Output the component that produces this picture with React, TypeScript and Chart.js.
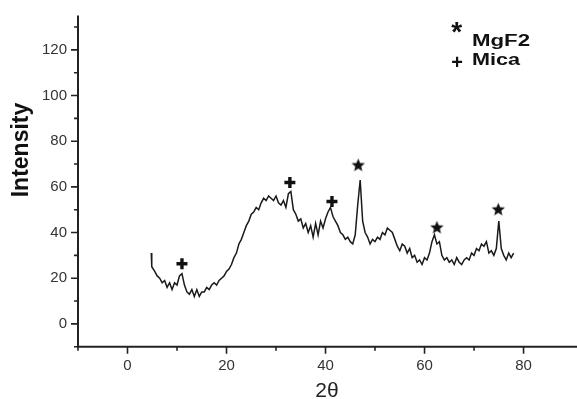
import React, { useEffect, useRef } from "react";
import { Chart, registerables } from "chart.js";

Chart.register(...registerables);

// ---- data ----
const twoTheta = [
  4.8, 4.9, 5.5, 6.0, 6.5, 7.0, 7.5, 8.0, 8.5, 9.0, 9.5, 10.0, 10.5, 11.0, 11.5,
  12.0, 12.5, 13.0, 13.5, 14.0, 14.5, 15.0, 15.5, 16.0, 16.5, 17.0, 17.5, 18.0,
  18.5, 19.0, 19.5, 20.0, 20.5, 21.0, 21.5, 22.0, 22.5, 23.0, 23.5, 24.0, 24.5,
  25.0, 25.5, 26.0, 26.5, 27.0, 27.5, 28.0, 28.5, 29.0, 29.5, 30.0, 30.5, 31.0,
  31.5, 32.0, 32.5, 33.0, 33.5, 34.0, 34.5, 35.0, 35.5, 36.0, 36.5, 37.0, 37.5,
  38.0, 38.5, 39.0, 39.5, 40.0, 40.5, 41.0, 41.5, 42.0, 42.5, 43.0, 43.5, 44.0,
  44.5, 45.0, 45.5, 46.0, 46.5, 47.0, 47.5, 48.0, 48.5, 49.0, 49.5, 50.0, 50.5,
  51.0, 51.5, 52.0, 52.5, 53.0, 53.5, 54.0, 54.5, 55.0, 55.5, 56.0, 56.5, 57.0,
  57.5, 58.0, 58.5, 59.0, 59.5, 60.0, 60.5, 61.0, 61.5, 62.0, 62.5, 63.0, 63.5,
  64.0, 64.5, 65.0, 65.5, 66.0, 66.5, 67.0, 67.5, 68.0, 68.5, 69.0, 69.5, 70.0,
  70.5, 71.0, 71.5, 72.0, 72.5, 73.0, 73.5, 74.0, 74.5, 75.0, 75.5, 76.0, 76.5,
  77.0, 77.5, 78.0,
];
const intensity = [
  31, 25, 23, 21, 20, 18, 19, 16, 18, 15, 18, 17, 21, 22, 17,
  14, 13, 15, 12, 15, 12, 14, 14, 16, 15, 17, 18, 17,
  19, 20, 21, 23, 24, 26, 29, 31, 35, 37, 40, 43, 45,
  48, 49, 51, 50, 53, 55, 54, 56, 55, 54, 56, 53, 52,
  54, 51, 57, 58, 50, 48, 45, 46, 42, 44, 40, 43, 38,
  44, 39, 45, 42, 46, 49, 51, 47, 45, 43, 40, 39, 37,
  38, 36, 35, 39, 52, 63, 45, 40, 38, 35, 37, 36, 38,
  37, 40, 39, 42, 41, 40, 37, 34, 32, 35, 34, 31, 33,
  29, 30, 27, 28, 26, 29, 28, 31, 36, 39, 35, 36, 30,
  28, 29, 27, 28, 26, 29, 27, 26, 28, 29, 28, 31, 30,
  33, 32, 35, 34, 36, 31, 32, 30, 33, 45, 33, 30, 28,
  31, 29, 31,
];
const micaX = [11.0, 32.8, 41.3];
const micaY = [26.3, 61.9, 53.6];
const mgf2X = [46.6, 62.5, 74.9];
const mgf2Y = [69.6, 42.3, 50.2];

const xMajor = [0, 20, 40, 60, 80];
const xMinor = [-10, 10, 30, 50, 70];
const yMajor = [0, 20, 40, 60, 80, 100, 120];
const yMinor = [-10, 10, 30, 50, 70, 90, 110, 130];

const xTitle = "2θ";
const yTitle = "Intensity";
const legendSymbols = ["*", "+"];
const legendLabels = ["MgF2", "Mica"];

function makeStar(): HTMLCanvasElement {
  const c = document.createElement("canvas");
  c.width = 15;
  c.height = 15;
  const g = c.getContext("2d")!;
  g.fillStyle = "#111";
  g.beginPath();
  for (let i = 0; i < 10; i++) {
    const r = i % 2 === 0 ? 7 : 3.1;
    const a = -Math.PI / 2 + (i * Math.PI) / 5;
    const px = 7.5 + r * Math.cos(a);
    const py = 8 + r * Math.sin(a);
    if (i === 0) g.moveTo(px, py);
    else g.lineTo(px, py);
  }
  g.closePath();
  g.fill();
  return c;
}

const decorPlugin = {
  id: "decor",
  afterDraw(chart: any) {
    const ctx = chart.ctx as CanvasRenderingContext2D;
    const xs = chart.scales.x;
    const ys = chart.scales.y;
    const { left, bottom, top } = chart.chartArea;
    ctx.save();
    ctx.strokeStyle = "#222";
    ctx.lineWidth = 2;
    // axes
    ctx.beginPath();
    ctx.moveTo(left, top);
    ctx.lineTo(left, bottom);
    ctx.moveTo(left - 1, bottom);
    ctx.lineTo(chart.width, bottom);
    ctx.stroke();
    // ticks
    ctx.lineWidth = 1.6;
    ctx.beginPath();
    xMajor.forEach((v) => {
      const p = xs.getPixelForValue(v);
      ctx.moveTo(p, bottom);
      ctx.lineTo(p, bottom + 7);
    });
    xMinor.forEach((v) => {
      const p = xs.getPixelForValue(v);
      ctx.moveTo(p, bottom);
      ctx.lineTo(p, bottom + 4);
    });
    yMajor.forEach((v) => {
      const p = ys.getPixelForValue(v);
      ctx.moveTo(left, p);
      ctx.lineTo(left - 7, p);
    });
    yMinor.forEach((v) => {
      const p = ys.getPixelForValue(v);
      ctx.moveTo(left, p);
      ctx.lineTo(left - 4, p);
    });
    ctx.stroke();

    // axis titles
    ctx.fillStyle = "#111";
    ctx.font = 'bold 23px "Liberation Sans", Arial, sans-serif';
    ctx.textAlign = "center";
    ctx.textBaseline = "alphabetic";
    ctx.save();
    ctx.translate(28.2, 150);
    ctx.rotate(-Math.PI / 2);
    ctx.fillText(yTitle, 0, 0);
    ctx.restore();

    ctx.font = '21px "Liberation Sans", Arial, sans-serif';
    ctx.fillStyle = "#222";
    ctx.fillText(xTitle, 327, 396.5);

    // legend
    const symCenters = [
      [456.7, 27],
      [457, 61],
    ];
    const labelBase = [46.3, 65];
    const labelWidth = [58, 48];
    ctx.fillStyle = "#111";
    legendSymbols.forEach((s, i) => {
      ctx.font = i === 0 ? 'bold 28px "Liberation Sans", Arial, sans-serif' : 'bold 20px "Liberation Sans", Arial, sans-serif';
      const m = ctx.measureText(s);
      const cy = symCenters[i][1] + (m.actualBoundingBoxAscent - m.actualBoundingBoxDescent) / 2;
      ctx.textAlign = "center";
      ctx.fillText(s, symCenters[i][0], cy);
    });
    ctx.font = 'bold 16px "Liberation Sans", Arial, sans-serif';
    ctx.textAlign = "left";
    legendLabels.forEach((t, i) => {
      const w = ctx.measureText(t).width;
      ctx.save();
      ctx.translate(472, labelBase[i]);
      ctx.scale(labelWidth[i] / w, 1);
      ctx.fillText(t, 0, 0);
      ctx.restore();
    });
    ctx.restore();
  },
};

export default function App() {
  const ref = useRef<HTMLCanvasElement | null>(null);
  useEffect(() => {
    if (!ref.current) return;
    const star = makeStar();
    const tickFont = { family: '"Liberation Sans", Arial, sans-serif', size: 15 };
    const chart = new Chart(ref.current, {
      type: "scatter",
      data: {
        datasets: [
          {
            label: "MgF2",
            data: mgf2X.map((x, i) => ({ x, y: mgf2Y[i] })),
            showLine: false,
            pointStyle: star as any,
            pointRadius: 7,
          },
          {
            label: "Mica",
            data: micaX.map((x, i) => ({ x, y: micaY[i] })),
            showLine: false,
            pointStyle: "cross",
            pointRadius: 5.5,
            borderWidth: 3.4,
            borderColor: "#111",
          },
          {
            label: "XRD",
            data: twoTheta.map((x, i) => ({ x, y: intensity[i] })),
            showLine: true,
            borderColor: "#1a1a1a",
            borderWidth: 1.5,
            pointRadius: 0,
            tension: 0,
          },
        ],
      },
      options: {
        animation: false,
        responsive: false,
        events: [],
        layout: { padding: { top: 15.6, left: 0, right: 0, bottom: 0 } },
        plugins: { legend: { display: false }, tooltip: { enabled: false } },
        scales: {
          x: {
            type: "linear",
            min: -10,
            max: 89,
            grid: { display: false },
            border: { display: false },
            afterBuildTicks: (s: any) => {
              s.ticks = xMajor.map((v) => ({ value: v }));
            },
            afterFit: (s: any) => {
              s.height = 52.3;
            },
            ticks: { font: tickFont, color: "#333", padding: 2, maxRotation: 0, autoSkip: false },
          },
          y: {
            type: "linear",
            min: -10,
            max: 135,
            grid: { display: false },
            border: { display: false },
            afterBuildTicks: (s: any) => {
              s.ticks = yMajor.map((v) => ({ value: v }));
            },
            afterFit: (s: any) => {
              s.width = 78;
            },
            ticks: { font: tickFont, color: "#333", padding: 3, autoSkip: false },
          },
        },
      },
      plugins: [decorPlugin],
    });
    return () => chart.destroy();
  }, []);
  return (
    <div style={{ position: "absolute", left: 0, top: 0, width: 577, height: 399, background: "#fff" }}>
      <canvas ref={ref} width={577} height={399} />
    </div>
  );
}
